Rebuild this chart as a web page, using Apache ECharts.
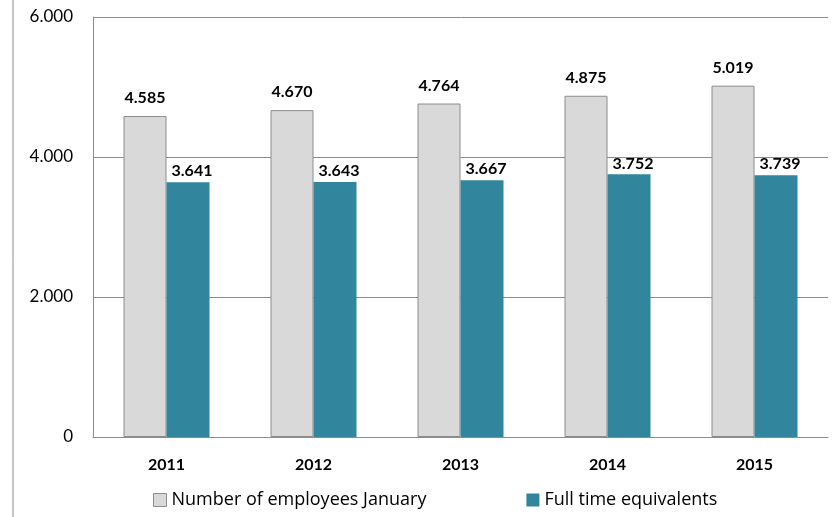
<!DOCTYPE html>
<html><head><meta charset="utf-8">
<script src="https://cdn.jsdelivr.net/npm/echarts@6/dist/echarts.min.js"></script>
<style>html,body{margin:0;padding:0;background:#fff}#c{width:836px;height:517px}</style>
</head><body><div id="c"></div>
<script>
var categories = ['2011','2012','2013','2014','2015'];
var employees = [4585, 4670, 4764, 4875, 5019];
var fte = [3641, 3643, 3667, 3752, 3739];
var seriesNames = ['Number of employees January', 'Full time equivalents'];

function fmt(v){ v = Math.round(v); if (v < 1000) return String(v); var s = String(v); return s.slice(0, s.length-3) + '.' + s.slice(-3); }
var font = 'Lato, "Open Sans", sans-serif';
var chart = echarts.init(document.getElementById('c'));
chart.setOption({
  animation: false,
  grid: {left: 93, right: 8, top: 17, bottom: 80},
  legend: {
    left: 148, bottom: 3, itemWidth: 13, itemHeight: 13, itemGap: 100,
    textStyle: {fontFamily: '"Open Sans", sans-serif', fontSize: 18, color: '#000'},
    data: [
      {name: seriesNames[0], icon: 'rect', itemStyle: {color: '#d9d9d9', borderColor: '#8c8c8c', borderWidth: 1}},
      {name: seriesNames[1], icon: 'rect'}
    ]
  },
  xAxis: {
    type: 'category', data: categories,
    axisLine: {show: true, lineStyle: {color: '#8c8c8c'}},
    axisTick: {show: false},
    axisLabel: {fontFamily: font, fontSize: 16, fontWeight: 'bold', color: '#000', margin: 20}
  },
  yAxis: {
    type: 'value', min: 0, max: 6000, interval: 2000,
    axisLine: {show: true, lineStyle: {color: '#8c8c8c'}},
    axisTick: {show: false},
    splitLine: {lineStyle: {color: '#8c8c8c'}},
    axisLabel: {fontFamily: font, fontSize: 17, color: '#000', margin: 20, formatter: fmt}
  },
  series: [
    {name: seriesNames[0], type: 'bar', data: employees, barWidth: 43, barGap: '0%',
     itemStyle: {color: '#d9d9d9', borderColor: '#8c8c8c', borderWidth: 1},
     label: {show: true, position: 'top', distance: 10, formatter: function(p){return fmt(p.value);},
       fontFamily: font, fontSize: 16, fontWeight: 'bold', color: '#000'}},
    {name: seriesNames[1], type: 'bar', data: fte, barWidth: 43,
     itemStyle: {color: '#31859c'},
     label: {show: true, position: 'top', distance: 3, offset: [4, 0], formatter: function(p){return fmt(p.value);},
       fontFamily: font, fontSize: 16, fontWeight: 'bold', color: '#000'}}
  ],
  graphic: [{type: 'line', shape: {x1: 13, y1: 0, x2: 13, y2: 517}, style: {stroke: '#8c8c8c', lineWidth: 1}}]
});
</script></body></html>
